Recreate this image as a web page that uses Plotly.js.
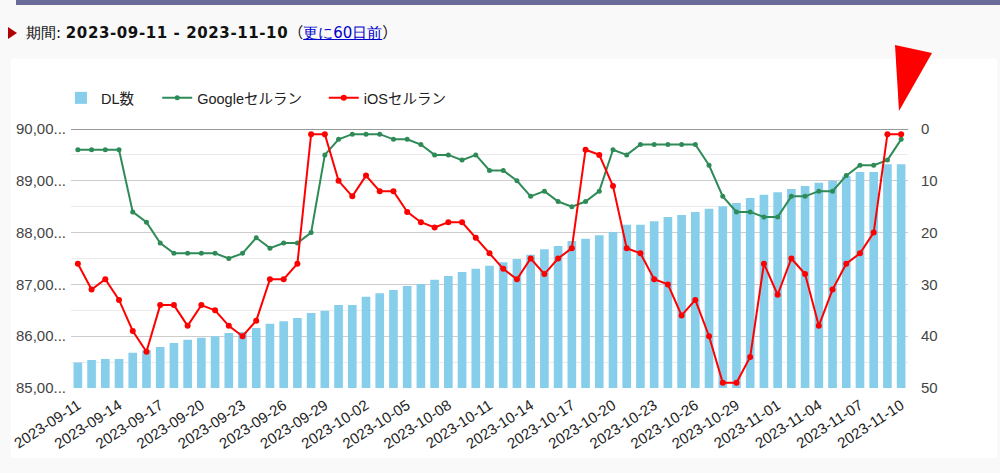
<!DOCTYPE html>
<html>
<head>
<meta charset="utf-8">
<script src="https://cdn.plot.ly/plotly-3.0.1.min.js"></script>
<style>
    body { margin: 0; background: #f9f9f9; width: 1000px; height: 473px; overflow: hidden; position: relative; font-family: "DejaVu Sans", sans-serif; }
    #topbar { position: absolute; left: 16px; top: 0; width: 984px; height: 5px; background: #6b6b99; }
    #period { position: absolute; left: 8px; top: 21px; font-size: 15px; color: #111; white-space: nowrap; }
    #period .mark { display: inline-block; width: 0; height: 0; border-top: 6px solid transparent; border-bottom: 6px solid transparent; border-left: 9px solid #b00000; margin-right: 9px; vertical-align: -1px; }
    #period b { letter-spacing: 0.6px; }
    #period .paren { font-family: "Noto Sans CJK JP", sans-serif; }
    #period a { color: #0000cc; text-decoration: underline; }
    #panel { position: absolute; left: 11px; top: 59px; width: 986px; height: 399px; background: #fff; }
    #flag { position: absolute; left: 0; top: 0; width: 1000px; height: 473px; pointer-events: none; }
</style>
</head>
<body>
<div id="topbar"></div>
<div id="period"><span class="mark"></span>期間: <b>2023-09-11 - 2023-11-10</b><span class="paren">（</span><a href="#">更に60日前</a><span class="paren">）</span></div>
<div id="panel"><div id="chart" style="width:986px;height:399px;"></div></div>
<svg id="flag"><polygon points="895,45 932,53 899,111" fill="#ff0000"></polygon></svg>
<script>
// ============================================================================
// Data
// ============================================================================

// Days of the period
var days = [
    "2023-09-11", "2023-09-12", "2023-09-13", "2023-09-14", "2023-09-15", "2023-09-16", "2023-09-17",
    "2023-09-18", "2023-09-19", "2023-09-20", "2023-09-21", "2023-09-22", "2023-09-23", "2023-09-24",
    "2023-09-25", "2023-09-26", "2023-09-27", "2023-09-28", "2023-09-29", "2023-09-30", "2023-10-01",
    "2023-10-02", "2023-10-03", "2023-10-04", "2023-10-05", "2023-10-06", "2023-10-07", "2023-10-08",
    "2023-10-09", "2023-10-10", "2023-10-11", "2023-10-12", "2023-10-13", "2023-10-14", "2023-10-15",
    "2023-10-16", "2023-10-17", "2023-10-18", "2023-10-19", "2023-10-20", "2023-10-21", "2023-10-22",
    "2023-10-23", "2023-10-24", "2023-10-25", "2023-10-26", "2023-10-27", "2023-10-28", "2023-10-29",
    "2023-10-30", "2023-10-31", "2023-11-01", "2023-11-02", "2023-11-03", "2023-11-04", "2023-11-05",
    "2023-11-06", "2023-11-07", "2023-11-08", "2023-11-09", "2023-11-10"
];

// Cumulative downloads (left axis)
var downloads = [
    85490, 85540, 85560, 85560, 85680, 85730, 85790, 85870, 85930, 85970,
    86000, 86060, 86080, 86160, 86240, 86290, 86350, 86450, 86490, 86600,
    86600, 86760, 86830, 86890, 86970, 87010, 87090, 87160, 87240, 87300,
    87360, 87430, 87490, 87570, 87680, 87740, 87840, 87880, 87950, 88010,
    88150, 88150, 88220, 88300, 88340, 88400, 88460, 88510, 88570, 88670,
    88730, 88780, 88840, 88900, 88960, 89000, 89090, 89170, 89170, 89320,
    89320
];

// Sales ranks (right axis, reversed)
var googleRank = [
    4, 4, 4, 4, 16, 18, 22, 24, 24, 24,
    24, 25, 24, 21, 23, 22, 22, 20, 5, 2,
    1, 1, 1, 2, 2, 3, 5, 5, 6, 5,
    8, 8, 10, 13, 12, 14, 15, 14, 12, 4,
    5, 3, 3, 3, 3, 3, 7, 13, 16, 16,
    17, 17, 13, 13, 12, 12, 9, 7, 7, 6,
    2
];

var iosRank = [
    26, 31, 29, 33, 39, 43, 34, 34, 38, 34,
    35, 38, 40, 37, 29, 29, 26, 1, 1, 10,
    13, 9, 12, 12, 16, 18, 19, 18, 18, 21,
    24, 27, 29, 25, 28, 25, 23, 4, 5, 11,
    23, 24, 29, 30, 36, 33, 40, 49, 49, 44,
    26, 32, 25, 28, 38, 31, 26, 24, 20, 1,
    1
];

// Axis ticks
var dayTicks = [
    "2023-09-11", "2023-09-14", "2023-09-17", "2023-09-20", "2023-09-23", "2023-09-26", "2023-09-29",
    "2023-10-02", "2023-10-05", "2023-10-08", "2023-10-11", "2023-10-14", "2023-10-17", "2023-10-20",
    "2023-10-23", "2023-10-26", "2023-10-29", "2023-11-01", "2023-11-04", "2023-11-07", "2023-11-10"
];
var dlTicks = [85000, 86000, 87000, 88000, 89000, 90000];
var dlTickText = ["85,00...", "86,00...", "87,00...", "88,00...", "89,00...", "90,00..."];
var rankTicks = [0, 10, 20, 30, 40, 50];

// ============================================================================
// Chart
// ============================================================================

var font = "Arial, 'Liberation Sans', 'Noto Sans CJK JP', sans-serif";

var traces = [
    {
        name: "DL数",
        type: "bar",
        x: days,
        y: downloads,
        marker: { color: "#87ceeb" },
        yaxis: "y",
        legend: "legend"
    },
    {
        name: "Googleセルラン",
        type: "scatter",
        mode: "lines+markers",
        x: days,
        y: googleRank,
        line: { color: "#2e8b57", width: 2 },
        marker: { color: "#2e8b57", size: 5 },
        yaxis: "y2",
        legend: "legend2"
    },
    {
        name: "iOSセルラン",
        type: "scatter",
        mode: "lines+markers",
        x: days,
        y: iosRank,
        line: { color: "#ff0000", width: 2 },
        marker: { color: "#ff0000", size: 6 },
        yaxis: "y2",
        legend: "legend3"
    }
];

// One legend per series so each entry sits where the original puts it
function legendAt(x) {
    return {
        orientation: "h",
        x: x,
        xanchor: "left",
        y: 1.12,
        yanchor: "middle",
        font: { family: font, size: 14.5, color: "#222" },
        itemwidth: 30
    };
}

var layout = {
    width: 986,
    height: 399,
    margin: { l: 60, r: 89, t: 70, b: 70 },
    paper_bgcolor: "#ffffff",
    plot_bgcolor: "#ffffff",
    font: { family: font, size: 13, color: "#222" },
    bargap: 0.37,
    showlegend: true,
    legend: legendAt(-0.012),
    legend2: legendAt(0.103),
    legend3: legendAt(0.302),
    xaxis: {
        type: "category",
        tickmode: "array",
        tickvals: dayTicks,
        ticktext: dayTicks,
        tickangle: -33,
        tickfont: { size: 15, color: "#222" },
        ticklabelstandoff: 5,
        showgrid: false,
        showline: false,
        ticks: "",
        range: [-0.5, days.length - 0.5]
    },
    yaxis: {
        range: [85000, 90000],
        tickmode: "array",
        tickvals: dlTicks,
        ticktext: dlTickText,
        tickfont: { size: 15, color: "#444" },
        gridcolor: "#cccccc",
        zeroline: false,
        showline: false,
        ticks: "",
        ticklabelstandoff: 4,
        minor: { dtick: 500, showgrid: true, gridcolor: "#ebebeb", ticks: "" }
    },
    yaxis2: {
        overlaying: "y",
        side: "right",
        range: [50, 0],
        tickmode: "array",
        tickvals: rankTicks,
        tickfont: { size: 15, color: "#444" },
        showgrid: false,
        zeroline: false,
        showline: false,
        ticks: "",
        ticklabelstandoff: 12
    },
    shapes: [
        {
            type: "line",
            xref: "paper", x0: 0, x1: 1,
            yref: "y", y0: 90000, y1: 90000,
            line: { color: "#333", width: 1 }
        }
    ]
};

Plotly.newPlot("chart", traces, layout, { displayModeBar: false, staticPlot: true });
</script>
</body>
</html>
